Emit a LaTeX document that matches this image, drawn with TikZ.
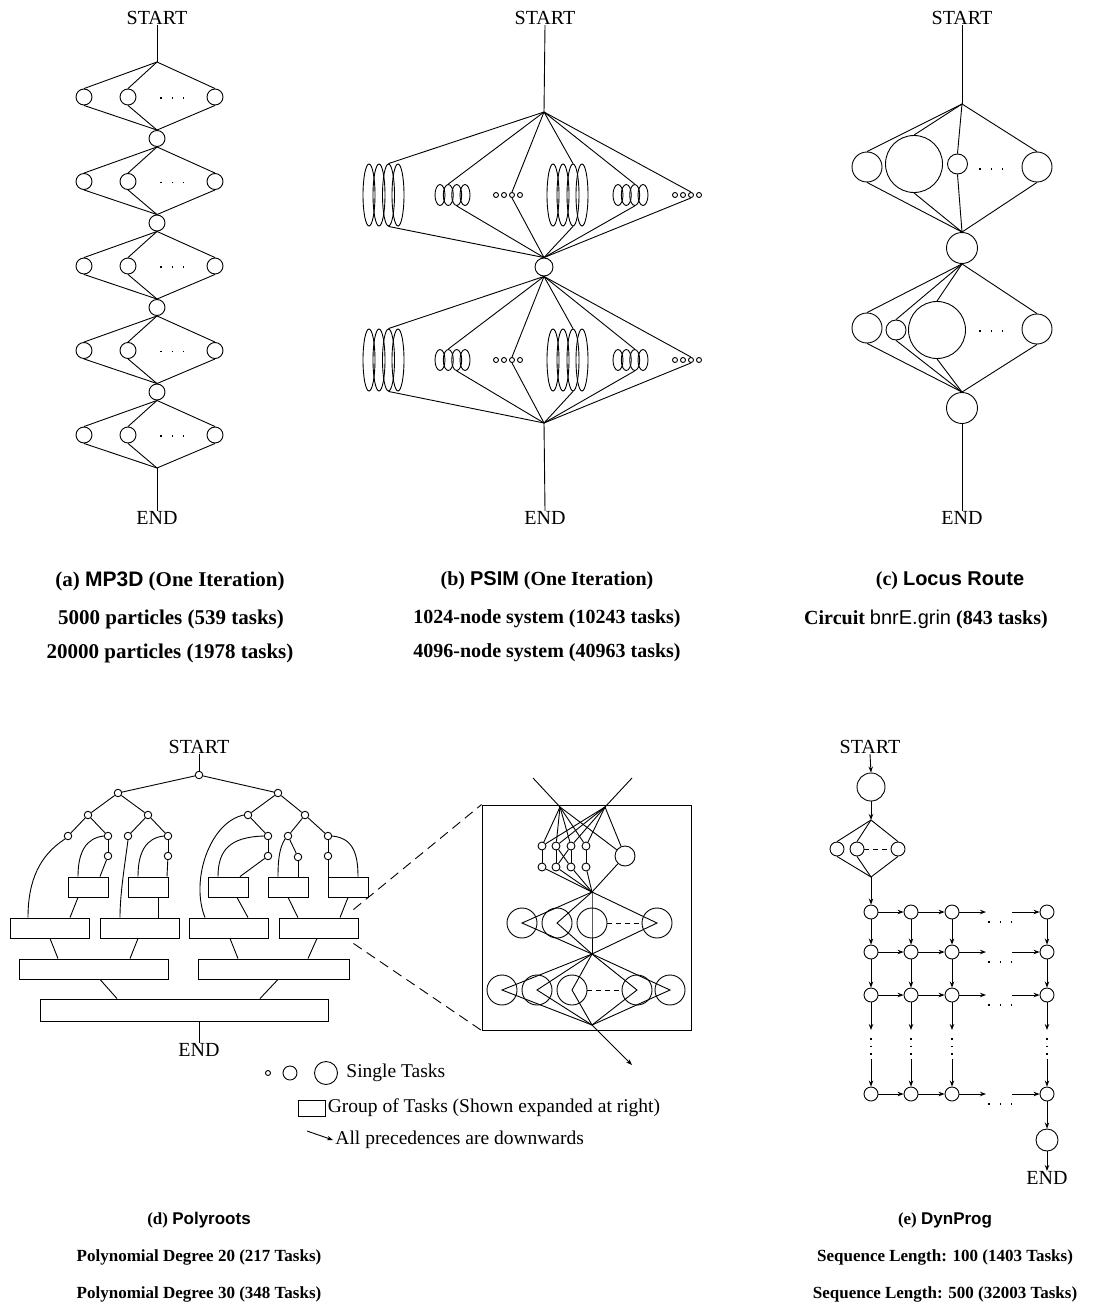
\documentclass[tikz,border=0pt]{standalone}
\usepackage{fontspec}
\setmainfont{Liberation Serif}
\newfontfamily\hsans{Liberation Sans}
\usetikzlibrary{arrows.meta,shapes.geometric}
\begin{document}
\begin{tikzpicture}[x=1pt,y=-1pt,line width=0.9pt,
  task/.style={circle,draw,inner sep=0pt,minimum size=#1},
  ell/.style 2 args={ellipse,draw,inner sep=0pt,minimum width=#1,minimum height=#2},
  grp/.style 2 args={rectangle,draw,inner sep=0pt,minimum width=#1,minimum height=#2},
  term/.style={font=\fontsize{20}{22}\selectfont,inner sep=0pt},
  captxt/.style={font=\fontsize{#1}{20}\selectfont\bfseries,inner sep=0pt},
  legtxt/.style={font=\fontsize{19.5}{22}\selectfont,inner sep=0pt,anchor=west},
  dotrow/.style={line width=1.6pt,dash pattern=on 1.6pt off 10pt},
  vdots/.style={line width=1.6pt,dash pattern=on 1.6pt off 6pt},
  shortdash/.style={dash pattern=on 5pt off 4pt},
  zoomdash/.style={dash pattern=on 10pt off 6pt},
  arr/.style={-{Stealth[length=6pt,width=4.5pt]}},
]
\fill[white] (0,0) rectangle (1092,1311);
\useasboundingbox (0,0) rectangle (1092,1311);

%% ---------------- (a) MP3D ----------------
\node[term] (aS) at (157,18) {START};
\coordinate (aT0) at (157,62);
\draw (aS.south) -- (aT0);
\foreach \k in {1,...,4}{
  \pgfmathsetmacro\yy{138.5+84.5*(\k-1)}
  \node[task=16] (aJ\k) at (157,\yy) {};
  \coordinate (aT\k) at (aJ\k.south);
  \coordinate (aB\k) at (aJ\k.north);
}
\coordinate (aB5) at (157,468);
\foreach \k in {0,...,4}{
  \pgfmathsetmacro\yy{97+84.5*\k}
  \pgfmathtruncatemacro\kk{\k+1}
  \node[task=16] (a\k-l) at (84,\yy) {};
  \node[task=16] (a\k-m) at (128,\yy) {};
  \node[task=16] (a\k-r) at (215,\yy) {};
  \draw[dotrow] (160,{\yy+1}) -- (184,{\yy+1});
  \foreach \cc in {l,m,r}{
    \draw (aT\k) -- (a\k-\cc.north);
    \draw (a\k-\cc.south) -- (aB\kk);
  }
}
\node[term] (aE) at (157,518) {END};
\draw (aB5) -- (aE.north);

%% ---------------- (b) PSIM ----------------
\node[term] (bS) at (545,18) {START};
\node[task=18] (bJ) at (544,267) {};
\coordinate (b1T) at (544,112);
\coordinate (b1B) at (bJ.north);
\coordinate (b2T) at (bJ.south);
\coordinate (b2B) at (544,423);
\draw (bS.south) -- (b1T);
\foreach \h/\yc in {1/195,2/360}{
  \foreach \i/\x in {1/369,2/379,3/388.5,4/398}{\node[ell={12}{62}] (b\h BL\i) at (\x,\yc) {};}
  \foreach \i/\x in {1/553,2/563,3/573,4/582}{\node[ell={12}{62}] (b\h BR\i) at (\x,\yc) {};}
  \foreach \i/\x in {1/440,2/448.3,3/456.7,4/465}{\node[ell={10}{21}] (b\h ML\i) at (\x,\yc) {};}
  \foreach \i/\x in {1/618,2/626.3,3/634.7,4/643}{\node[ell={10}{21}] (b\h MR\i) at (\x,\yc) {};}
  \foreach \i/\x in {1/496,2/504,3/512,4/520}{\node[task=5] (b\h TL\i) at (\x,\yc) {};}
  \foreach \i/\x in {1/675,2/683,3/691,4/699}{\node[task=5] (b\h TR\i) at (\x,\yc) {};}
  \foreach \g/\it/\ib in {BL/3/3,ML/2/3,TL/3/3,BR/3/3,MR/3/3,TR/3/3}{
    \draw (b\h T) -- (b\h\g\it.north);
    \draw (b\h\g\ib.south) -- (b\h B);
  }
}
\node[term] (bE) at (545,518) {END};
\draw (b2B) -- (bE.north);

%% ---------------- (c) Locus Route ----------------
\node[term] (cS) at (962,18) {START};
\coordinate (cT1) at (962,104);
\draw (cS.south) -- (cT1);
\node[task=30] (cL1) at (867,167) {};
\node[task=57] (cG1) at (914,164) {};
\node[task=20] (cS1) at (957.5,164) {};
\node[task=30] (cR1) at (1037,167) {};
\draw[dotrow] (979,169) -- (1003,169);
\node[task=31] (cJ) at (962,248) {};
\foreach \n in {cL1,cG1,cS1,cR1}{\draw (cT1) -- (\n.north); \draw (\n.south) -- (cJ.north);}
\node[task=30] (cL2) at (867,328) {};
\node[task=20] (cS2) at (896,330) {};
\node[task=57] (cG2) at (937,330) {};
\node[task=30] (cR2) at (1037,329) {};
\draw[dotrow] (979,331) -- (1003,331);
\node[task=31] (cE) at (962,408) {};
\foreach \n in {cL2,cS2,cG2,cR2}{\draw (cJ.south) -- (\n.north); \draw (\n.south) -- (cE.north);}
\node[term] (cEnd) at (962,518) {END};
\draw (cE.south) -- (cEnd.north);

%% ---------------- captions top ----------------
\node[captxt=21] (capA1) at (170,581) {(a) {\hsans MP3D} (One Iteration)};
\node[captxt=21] (capA2) at (171,619) {5000 particles (539 tasks)};
\node[captxt=21] (capA3) at (170,653) {20000 particles (1978 tasks)};
\node[captxt=20] (capB1) at (547,581) {(b) {\hsans PSIM} (One Iteration)};
\node[captxt=20] (capB2) at (547,619) {1024-node system (10243 tasks)};
\node[captxt=20] (capB3) at (547,653) {4096-node system (40963 tasks)};
\node[captxt=20] (capC1) at (950,581) {(c) {\hsans Locus Route}};
\node[captxt=20] (capC2) at (926,619) {Circuit {\hsans\mdseries bnrE.grin} (843 tasks)};

%% ---------------- (d) Polyroots ----------------
\node[term] (dS) at (199,747) {START};
\node[task=7.5] (d0) at (199,775) {};
\foreach \n/\x/\y in {d1a/118/793,d1b/278/793,d2a/88/815,d2b/148/815,d2c/248/815,d2d/305/815,d3a/68/836,d3b/108/836,d3c/128/836,d3d/168/836,d3e/268/836,d3f/288/836,d3g/328/836,d4a/108/856,d4b/168/856,d4c/268/856,d4d/298/857,d4e/328/856}{\node[task=7.5] (\n) at (\x,\y) {};}
\draw (dS.south) -- (d0);
\foreach \u/\v in {d0/d1a,d0/d1b,d1a/d2a,d1a/d2b,d1b/d2c,d1b/d2d,d2a/d3a,d2a/d3b,d2b/d3c,d2b/d3d,d2c/d3e,d2d/d3f,d2d/d3g,d3b/d4a,d3d/d4b,d3e/d4c,d3f/d4d,d3g/d4e}{\draw (\u) -- (\v);}
\foreach \i/\x in {1/88,2/148,3/228,4/288,5/348}{\node[grp={40}{20}] (sA\i) at (\x,887) {};}
\node[grp={79}{20}] (dB1) at (49.5,928) {};
\node[grp={79}{20}] (dB2) at (139.5,928) {};
\node[grp={79}{20}] (dB3) at (228.5,928) {};
\node[grp={79}{20}] (dB4) at (318.5,928) {};
\node[grp={149}{20}] (dC1) at (93.5,969) {};
\node[grp={151}{20}] (dC2) at (273.5,969) {};
\node[grp={288}{22}] (dD) at (184,1010) {};
\node[term] (dE) at (199,1050) {END};
% into small boxes
\draw (d4a) -- ([xshift=12pt]sA1.north);
\draw (d3b.west) .. controls (86,838) and (78,852) .. ([xshift=-10pt]sA1.north);
\draw (d4b) -- ([xshift=19pt]sA2.north);
\draw (d3d.west) .. controls (146,838) and (138,852) .. ([xshift=-10pt]sA2.north);
\draw (d4c) -- ([xshift=12pt]sA3.north);
\draw (d3e.west) .. controls (230,837) and (218,850) .. ([xshift=-10pt]sA3.north);
\draw (d4d) -- ([xshift=10pt]sA4.north);
\draw (d3f.south west) .. controls (279,848) and (278,862) .. ([xshift=-10pt]sA4.north);
\draw (d4e) -- ([xshift=-20pt]sA5.north);
\draw (d3g.east) .. controls (352,838) and (358,852) .. ([xshift=10pt]sA5.north);
% long curves
\draw (d3a.south west) .. controls (40,855) and (28,880) .. ([xshift=-21.5pt]dB1.north);
\draw (d3c.south) .. controls (124,870) and (120,895) .. ([xshift=-19.5pt]dB2.north);
\draw (d2c.west) .. controls (210,822) and (190,880) .. ([xshift=-23.5pt]dB3.north);
% small -> B
\draw ([xshift=-10pt]sA1.south) -- ([xshift=20.5pt]dB1.north);
\draw ([xshift=10pt]sA2.south) -- ([xshift=18.5pt]dB2.north);
\draw ([xshift=9pt]sA3.south) -- ([xshift=19.5pt]dB3.north);
\draw (sA4.south) -- ([xshift=-20.5pt]dB4.north);
\draw (sA5.south) -- ([xshift=21.5pt]dB4.north);
% B -> C
\draw ([xshift=0.5pt]dB1.south) -- ([xshift=-35.5pt]dC1.north);
\draw ([xshift=-1.5pt]dB2.south) -- ([xshift=36.5pt]dC1.north);
\draw ([xshift=1.5pt]dB3.south) -- ([xshift=-35.5pt]dC2.north);
\draw ([xshift=-1.5pt]dB4.south) -- ([xshift=34.5pt]dC2.north);
% C -> D
\draw ([xshift=6.5pt]dC1.south) -- ([xshift=-67pt]dD.north);
\draw ([xshift=4.5pt]dC2.south) -- ([xshift=76pt]dD.north);
\draw ([xshift=15pt]dD.south) -- (dE.north);

%% inset
\node[grp={209}{225}] (iBox) at (586.5,917.5) {};
\draw[zoomdash] ([xshift=-5pt,yshift=8pt]dB4.north east) -- (iBox.north west);
\draw[zoomdash] ([xshift=-5pt,yshift=-5pt]dB4.south east) -- (iBox.south west);
\coordinate (iIn1) at (533,778);
\coordinate (iIn2) at (632,778);
\coordinate (iP1) at (560,807);
\coordinate (iP2) at (605,807);
\draw (iIn1) -- (iP1);
\draw (iIn2) -- (iP2);
\foreach \i/\x in {1/542,2/556,3/571,4/586}{
  \node[task=8] (iA\i) at (\x,846) {};
  \node[task=8] (iB\i) at (\x,867) {};
}
\node[task=20] (iC) at (625,856) {};
\coordinate (iJ1) at (592,892);
\coordinate (iJ2) at (592,954);
\coordinate (iJ3) at (592,1025);
\foreach \i in {1,...,4}{
  \draw (iP1) -- (iA\i);
  \draw (iP2) -- (iA\i);
  \draw (iA\i) -- (iB\i);
  \draw (iB\i) -- (iJ1);
}
\draw (iA2) -- (iB3);
\draw (iA3) -- (iB2);
\draw (iP1) -- (iC);
\draw (iP2) -- (iC);
\draw (iC) -- (iJ1);
\foreach \i/\x in {1/522,2/557,3/592,4/657}{
  \node[task=30] (iD\i) at (\x,923) {};
  \draw (iJ1) -- (iD\i.center) -- (iJ2);
}
\draw[shortdash] (iD3.east) -- (iD4.west);
\foreach \i/\x in {1/502,2/537,3/572,4/637,5/670}{
  \node[task=30] (iE\i) at (\x,990) {};
  \draw (iJ2) -- (iE\i.center) -- (iJ3);
}
\draw[shortdash] (iE3.east) -- (iE4.west);
\coordinate (iOut) at (632,1065);
\draw[arr] (iJ3) -- (iOut);

%% legend
\node[task=5] (lg1) at (268,1073) {};
\node[task=14] (lg2) at (290,1073) {};
\node[task=23] (lg3) at (326,1073) {};
\node[legtxt] (lgT1) at (346,1073) {Single Tasks};
\node[grp={27}{16}] (lgB) at (311.5,1108) {};
\node[legtxt] (lgT2) at ([xshift=2pt]lgB.east) {Group of Tasks (Shown expanded at right)};
\coordinate (lgA1) at (307,1131);
\coordinate (lgA2) at (333,1140);
\draw[arr] (lgA1) -- (lgA2);
\node[legtxt] (lgT3) at (335,1140) {All precedences are downwards};

%% ---------------- (e) DynProg ----------------
\node[term] (eS) at (870,747) {START};
\node[task=28] (eC0) at (871,787) {};
\draw[arr] (eS.south) -- (eC0.north);
\coordinate (eT) at (871,820);
\draw[arr] (eC0.south) -- (eT);
\node[task=14] (eD1) at (837,849) {};
\node[task=14] (eD2) at (857,849) {};
\node[task=14] (eD3) at (898,849) {};
\draw[shortdash] (eD2.east) -- (eD3.west);
\coordinate (eB) at (871,877);
\foreach \n in {eD1,eD2,eD3}{\draw (eT) -- (\n.north); \draw (\n.south) -- (eB);}
\foreach \r/\yy in {1/912,2/952,3/995,4/1094}{
  \foreach \cc/\xx in {1/871,2/911,3/952,4/1047}{\node[task=14] (g\r\cc) at (\xx,\yy) {};}
  \coordinate (h\r a) at (986,\yy);
  \coordinate (h\r b) at (1012,\yy);
  \draw[arr] (g\r1.east) -- (g\r2.west);
  \draw[arr] (g\r2.east) -- (g\r3.west);
  \draw[arr] (g\r3.east) -- (h\r a);
  \draw[arr] (h\r b) -- (g\r4.west);
  \draw[dotrow] (988,{\yy+10}) -- (1012,{\yy+10});
}
\draw[arr] (eB) -- (g11.north);
\foreach \cc/\xx in {1/871,2/911,3/952,4/1047}{
  \coordinate (v\cc a) at (\xx,1030);
  \coordinate (v\cc b) at (\xx,1059);
  \draw[arr] (g1\cc.south) -- (g2\cc.north);
  \draw[arr] (g2\cc.south) -- (g3\cc.north);
  \draw[arr] (g3\cc.south) -- (v\cc a);
  \draw[vdots] (\xx,1038) -- (\xx,1056);
  \draw[arr] (v\cc b) -- (g4\cc.north);
}
\node[task=22] (eC9) at (1047,1140) {};
\draw[arr] (g44.south) -- (eC9.north);
\node[term] (eE) at (1047,1178) {END};
\draw[arr] (eC9.south) -- (eE.north);

%% captions bottom
\node[captxt=17] (capD1) at (199,1220) {(d) {\hsans Polyroots}};
\node[captxt=17] (capD2) at (199,1257) {Polynomial Degree 20 (217 Tasks)};
\node[captxt=17] (capD3) at (199,1294) {Polynomial Degree 30 (348 Tasks)};
\node[captxt=17] (capE1) at (945,1220) {(e) {\hsans DynProg}};
\node[captxt=17] (capE2) at (945,1257) {Sequence Length: 100 (1403 Tasks)};
\node[captxt=17] (capE3) at (945,1294) {Sequence Length: 500 (32003 Tasks)};
\end{tikzpicture}
\end{document}
